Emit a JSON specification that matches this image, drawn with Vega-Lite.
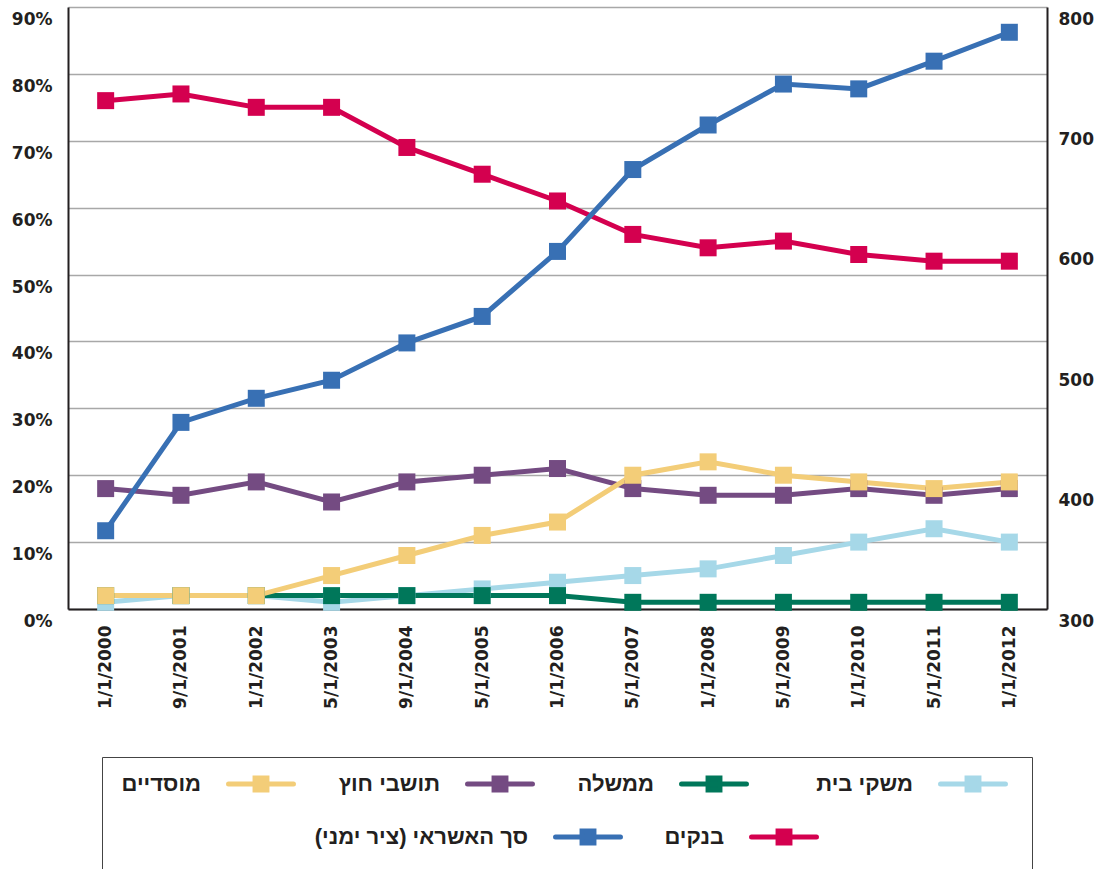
{
  "$schema": "https://vega.github.io/schema/vega-lite/v6.json",
  "width": 979,
  "height": 602,
  "autosize": {"type": "none"},
  "padding": {"left": 68, "top": 7, "right": 54, "bottom": 260},
  "background": "white",
  "datasets": {
    "shares": [
      {"date": "1/1/2000", "series": "משקי בית", "value": 1},
      {"date": "9/1/2001", "series": "משקי בית", "value": 2},
      {"date": "1/1/2002", "series": "משקי בית", "value": 2},
      {"date": "5/1/2003", "series": "משקי בית", "value": 1},
      {"date": "9/1/2004", "series": "משקי בית", "value": 2},
      {"date": "5/1/2005", "series": "משקי בית", "value": 3},
      {"date": "1/1/2006", "series": "משקי בית", "value": 4},
      {"date": "5/1/2007", "series": "משקי בית", "value": 5},
      {"date": "1/1/2008", "series": "משקי בית", "value": 6},
      {"date": "5/1/2009", "series": "משקי בית", "value": 8},
      {"date": "1/1/2010", "series": "משקי בית", "value": 10},
      {"date": "5/1/2011", "series": "משקי בית", "value": 12},
      {"date": "1/1/2012", "series": "משקי בית", "value": 10},
      {"date": "1/1/2000", "series": "ממשלה", "value": 2},
      {"date": "9/1/2001", "series": "ממשלה", "value": 2},
      {"date": "1/1/2002", "series": "ממשלה", "value": 2},
      {"date": "5/1/2003", "series": "ממשלה", "value": 2},
      {"date": "9/1/2004", "series": "ממשלה", "value": 2},
      {"date": "5/1/2005", "series": "ממשלה", "value": 2},
      {"date": "1/1/2006", "series": "ממשלה", "value": 2},
      {"date": "5/1/2007", "series": "ממשלה", "value": 1},
      {"date": "1/1/2008", "series": "ממשלה", "value": 1},
      {"date": "5/1/2009", "series": "ממשלה", "value": 1},
      {"date": "1/1/2010", "series": "ממשלה", "value": 1},
      {"date": "5/1/2011", "series": "ממשלה", "value": 1},
      {"date": "1/1/2012", "series": "ממשלה", "value": 1},
      {"date": "1/1/2000", "series": "תושבי חוץ", "value": 18},
      {"date": "9/1/2001", "series": "תושבי חוץ", "value": 17},
      {"date": "1/1/2002", "series": "תושבי חוץ", "value": 19},
      {"date": "5/1/2003", "series": "תושבי חוץ", "value": 16},
      {"date": "9/1/2004", "series": "תושבי חוץ", "value": 19},
      {"date": "5/1/2005", "series": "תושבי חוץ", "value": 20},
      {"date": "1/1/2006", "series": "תושבי חוץ", "value": 21},
      {"date": "5/1/2007", "series": "תושבי חוץ", "value": 18},
      {"date": "1/1/2008", "series": "תושבי חוץ", "value": 17},
      {"date": "5/1/2009", "series": "תושבי חוץ", "value": 17},
      {"date": "1/1/2010", "series": "תושבי חוץ", "value": 18},
      {"date": "5/1/2011", "series": "תושבי חוץ", "value": 17},
      {"date": "1/1/2012", "series": "תושבי חוץ", "value": 18},
      {"date": "1/1/2000", "series": "מוסדיים", "value": 2},
      {"date": "9/1/2001", "series": "מוסדיים", "value": 2},
      {"date": "1/1/2002", "series": "מוסדיים", "value": 2},
      {"date": "5/1/2003", "series": "מוסדיים", "value": 5},
      {"date": "9/1/2004", "series": "מוסדיים", "value": 8},
      {"date": "5/1/2005", "series": "מוסדיים", "value": 11},
      {"date": "1/1/2006", "series": "מוסדיים", "value": 13},
      {"date": "5/1/2007", "series": "מוסדיים", "value": 20},
      {"date": "1/1/2008", "series": "מוסדיים", "value": 22},
      {"date": "5/1/2009", "series": "מוסדיים", "value": 20},
      {"date": "1/1/2010", "series": "מוסדיים", "value": 19},
      {"date": "5/1/2011", "series": "מוסדיים", "value": 18},
      {"date": "1/1/2012", "series": "מוסדיים", "value": 19},
      {"date": "1/1/2000", "series": "בנקים", "value": 76},
      {"date": "9/1/2001", "series": "בנקים", "value": 77},
      {"date": "1/1/2002", "series": "בנקים", "value": 75},
      {"date": "5/1/2003", "series": "בנקים", "value": 75},
      {"date": "9/1/2004", "series": "בנקים", "value": 69},
      {"date": "5/1/2005", "series": "בנקים", "value": 65},
      {"date": "1/1/2006", "series": "בנקים", "value": 61},
      {"date": "5/1/2007", "series": "בנקים", "value": 56},
      {"date": "1/1/2008", "series": "בנקים", "value": 54},
      {"date": "5/1/2009", "series": "בנקים", "value": 55},
      {"date": "1/1/2010", "series": "בנקים", "value": 53},
      {"date": "5/1/2011", "series": "בנקים", "value": 52},
      {"date": "1/1/2012", "series": "בנקים", "value": 52}
    ],
    "credit": [
      {"date": "1/1/2000", "series": "סך האשראי (ציר ימני)\u200f", "value": 365},
      {"date": "9/1/2001", "series": "סך האשראי (ציר ימני)\u200f", "value": 455},
      {"date": "1/1/2002", "series": "סך האשראי (ציר ימני)\u200f", "value": 475},
      {"date": "5/1/2003", "series": "סך האשראי (ציר ימני)\u200f", "value": 490},
      {"date": "9/1/2004", "series": "סך האשראי (ציר ימני)\u200f", "value": 521},
      {"date": "5/1/2005", "series": "סך האשראי (ציר ימני)\u200f", "value": 543},
      {"date": "1/1/2006", "series": "סך האשראי (ציר ימני)\u200f", "value": 597},
      {"date": "5/1/2007", "series": "סך האשראי (ציר ימני)\u200f", "value": 665},
      {"date": "1/1/2008", "series": "סך האשראי (ציר ימני)\u200f", "value": 702},
      {"date": "5/1/2009", "series": "סך האשראי (ציר ימני)\u200f", "value": 736},
      {"date": "1/1/2010", "series": "סך האשראי (ציר ימני)\u200f", "value": 732},
      {"date": "5/1/2011", "series": "סך האשראי (ציר ימני)\u200f", "value": 755},
      {"date": "1/1/2012", "series": "סך האשראי (ציר ימני)\u200f", "value": 779}
    ]
  },
  "config": {
    "view": {"stroke": null},
    "axis": {
      "labelFont": "DejaVu Sans",
      "labelFontSize": 17,
      "labelFontWeight": "bold",
      "labelColor": "#231f20",
      "ticks": false,
      "domainColor": "#231f20",
      "domainWidth": 2,
      "labelFlush": false,
      "labelOverlap": false
    },
    "legend": {
      "orient": "none",
      "legendX": 34,
      "legendY": 750,
      "direction": "horizontal",
      "columns": 4,
      "gridAlign": "none",
      "columnPadding": 10,
      "rowPadding": 21,
      "padding": 16,
      "strokeColor": "#444444",
      "strokeWidth": 1,
      "fillColor": "white",
      "symbolType": "M-3.82,0H3.82M-0.7,-0.7H0.7V0.7H-0.7Z",
      "symbolSize": 289,
      "symbolStrokeWidth": 5,
      "symbolOffset": 132,
      "labelAlign": "right",
      "labelBaseline": "middle",
      "labelOffset": -71,
      "labelFont": "Liberation Sans",
      "labelFontSize": 22,
      "labelFontWeight": "bold",
      "labelColor": "#231f20",
      "labelLimit": 0
    }
  },
  "encoding": {
    "x": {
      "field": "date",
      "type": "ordinal",
      "sort": null,
      "axis": {"title": null, "labelAngle": 270, "labelPadding": 16, "grid": false}
    },
    "color": {
      "field": "series",
      "type": "nominal",
      "scale": {
        "domain": ["מוסדיים", "תושבי חוץ", "ממשלה", "משקי בית", " ", "סך האשראי (ציר ימני)\u200f", "בנקים"],
        "range": ["#f3cd78", "#744b82", "#00775a", "#a6d8e8", "transparent", "#3870b4", "#d4004f"]
      },
      "legend": {
        "title": null,
        "labelExpr": "datum.label == 'תושבי חוץ' ? '\u200e    ' + datum.label : datum.label == 'ממשלה' ? '\u200e    ' + datum.label : datum.label == 'משקי בית' ? '\u200e        ' + datum.label : datum.label",
        "encode": {
          "symbols": {
            "update": {
              "fill": {"scale": "color", "field": "value"},
              "stroke": {"scale": "color", "field": "value"},
              "strokeCap": {"value": "round"},
              "opacity": {"value": 1}
            }
          }
        }
      }
    }
  },
  "layer": [
    {
      "data": {"name": "shares"},
      "encoding": {
        "y": {
          "field": "value",
          "type": "quantitative",
          "scale": {"domain": [0, 90], "nice": false},
          "axis": {
            "orient": "left",
            "title": null,
            "values": [0, 10, 20, 30, 40, 50, 60, 70, 80, 90],
            "labelExpr": "datum.value + '%'",
            "grid": true,
            "gridColor": "#a8a8a8",
            "gridWidth": 1.3,
            "labelPadding": 16,
            "labelOffset": 12.5,
            "minExtent": 56,
            "maxExtent": 56
          }
        }
      },
      "layer": [
        {"mark": {"type": "line", "strokeWidth": 5}},
        {"mark": {"type": "point", "shape": "square", "filled": true, "size": 289, "opacity": 1}}
      ]
    },
    {
      "data": {"name": "credit"},
      "encoding": {
        "y": {
          "field": "value",
          "type": "quantitative",
          "scale": {"domain": [300, 800], "nice": false, "zero": false},
          "axis": {
            "orient": "right",
            "title": null,
            "values": [300, 400, 500, 600, 700, 800],
            "grid": false,
            "labelPadding": 11,
            "labelOffset": 12,
            "minExtent": 50,
            "maxExtent": 50
          }
        }
      },
      "layer": [
        {"mark": {"type": "line", "strokeWidth": 5}},
        {"mark": {"type": "point", "shape": "square", "filled": true, "size": 289, "opacity": 1}}
      ]
    }
  ],
  "resolve": {"scale": {"y": "independent"}}
}
